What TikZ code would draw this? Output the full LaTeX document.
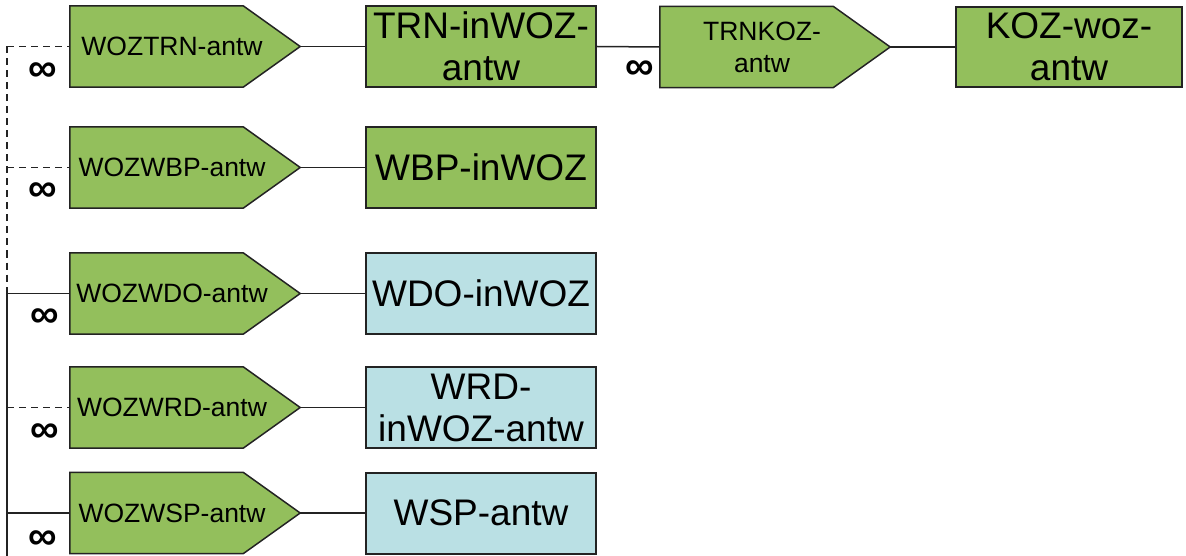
\documentclass[tikz,border=0pt]{standalone}
\usepackage{fontspec}
\setmainfont{Liberation Sans}
\pgfdeclarelayer{background}
\pgfsetlayers{background,main}
\definecolor{boxgreen}{RGB}{147,191,92}
\definecolor{boxblue}{RGB}{186,224,228}
\definecolor{edgec}{RGB}{35,35,35}
\begin{document}
\begin{tikzpicture}[x=1pt,y=-1pt,
  pent/.style={minimum width=204pt, minimum height=81pt, inner sep=0pt, font=\fontsize{26.5}{32}\selectfont, align=center},
  pentshape/.style={fill=boxgreen, draw=edgec, line width=1.5pt, line join=miter},
  gbox/.style={draw=edgec, fill=boxgreen, line width=2pt, minimum width=230pt, minimum height=81pt, inner sep=0pt, font=\fontsize{37}{42}\selectfont, align=center},
  bbox/.style={gbox, fill=boxblue},
  link/.style={draw=edgec, line width=1.5pt},
  dlink/.style={link, line width=1.6pt, dash pattern=on 7pt off 5pt},
  inf/.style={font=\fontsize{40}{40}\bfseries\selectfont, inner sep=0pt}
]
\useasboundingbox (0,0) rectangle (1186,556);

% pentagon nodes (text area)
\node[pent] (p1) at (172,46.5) {WOZTRN-antw};
\node[pent] (p2) at (172,167.5) {WOZWBP-antw};
\node[pent] (p3) at (172,293.5) {WOZWDO-antw};
\node[pent] (p4) at (172,407.5) {WOZWRD-antw};
\node[pent] (p5) at (172,513) {WOZWSP-antw};
\node[pent] (p6) at (762,47) {TRNKOZ-\\antw};

% tips
\foreach \n in {p1,p2,p3,p4,p5,p6}{
  \coordinate (\n tip) at ([xshift=26pt]\n.east);
}
\begin{pgfonlayer}{background}
\foreach \n in {p1,p2,p3,p4,p5,p6}{
  \path[pentshape] (\n.south west) -- (\n.north west) -- ([xshift=-31pt]\n.north east)
    -- (\n tip) -- ([xshift=-31pt]\n.south east) -- cycle;
}
\end{pgfonlayer}

% rectangles
\node[gbox] (r1) at (481,46.5) {TRN-inWOZ-\\antw};
\node[gbox] (r2) at (481,167.5) {WBP-inWOZ};
\node[bbox] (r3) at (481,293.5) {WDO-inWOZ};
\node[bbox] (r4) at (481,407.5) {WRD-\\inWOZ-antw};
\node[bbox] (r5) at (481,513) {WSP-antw};
\node[gbox, minimum width=226pt, minimum height=80pt] (r6) at (1069,47) {KOZ-woz-\\antw};

% connectors
\draw[link] (p1tip) -- (r1.west);
\draw[link] (p2tip) -- (r2.west);
\draw[link] (p3tip) -- (r3.west);
\draw[link] (p4tip) -- (r4.west);
\draw[link] (p5tip) -- (r5.west);
\draw[link] (r1.east) -- (p6.west);
\draw[link] (p6tip) -- (r6.west);

% left bus
\coordinate (b1) at (7,46.5);
\coordinate (b2) at (7,167.5);
\coordinate (b3) at (7,293.5);
\coordinate (b4) at (7,407.5);
\coordinate (b5) at (7,513);
\coordinate (bd) at (7,283);
\coordinate (bs) at (7,287);
\coordinate (bb) at (7,556);
\draw[dlink] (b1) -- (bd);
\draw[link] (bs) -- (bb);
\draw[dlink] (b1) -- (p1.west);
\draw[dlink] (b2) -- (p2.west);
\draw[link] (b3) -- (p3.west);
\draw[dlink] (b4) -- (p4.west);
\draw[link] (b5) -- (p5.west);

% multiplicities
\node[inf] (i1) at (43,72) {∞};
\node[inf] (i2) at (43,192) {∞};
\node[inf] (i3) at (45,318) {∞};
\node[inf] (i4) at (45,433) {∞};
\node[inf] (i5) at (43,540) {∞};
\node[inf] (i6) at (640,70) {∞};
\end{tikzpicture}
\end{document}
